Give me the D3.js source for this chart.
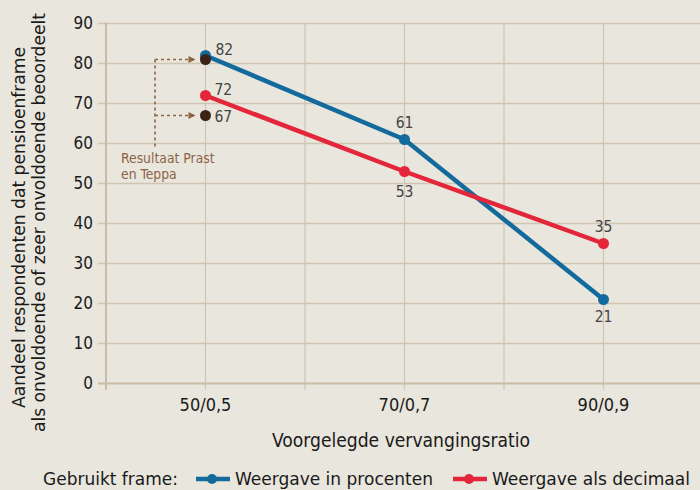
<!DOCTYPE html>
<html><head><meta charset="utf-8">
<script src="https://cdn.jsdelivr.net/npm/d3@7/dist/d3.min.js"></script>
<style>
html,body{margin:0;padding:0;background:#e8e6dd;}
svg{display:block;}
</style></head>
<body>
<svg id="chart" width="700" height="490"></svg>
<script>
const categories = ["50/0,5", "70/0,7", "90/0,9"];
const procenten = [82, 61, 21];
const decimaal = [72, 53, 35];
const prastTeppa = [81, 67];
const yTicks = [0, 10, 20, 30, 40, 50, 60, 70, 80, 90];
const seriesNames = ["Weergave in procenten", "Weergave als decimaal"];
const legendTitle = "Gebruikt frame:";
const xTitle = "Voorgelegde vervangingsratio";
const yTitle = ["Aandeel respondenten dat pensioenframe", "als onvoldoende of zeer onvoldoende beoordeelt"];
const noteLines = ["Resultaat Prast", "en Teppa"];

// font detection
const cvs = document.createElement("canvas").getContext("2d");
function has(f){
  const s = "abcdefghijklmnopqrstuvwxyz Voorgelegde 0123456789";
  cvs.font = "20px '" + f + "', monospace"; const a = cvs.measureText(s).width;
  cvs.font = "20px monospace"; const b = cvs.measureText(s).width;
  return a !== b;
}
const cands = ["DejaVu Sans Condensed", "Liberation Sans Narrow", "Roboto"];
const FONT = "'" + (cands.find(has) || "Roboto") + "', sans-serif";

const svg = d3.select("#chart").style("font-family", FONT);
svg.append("rect").attr("width", 700).attr("height", 490).attr("fill", "#e8e6dd");

const x = d3.scaleBand().domain(categories).range([106, 703]).paddingInner(0).paddingOuter(0);
const y = d3.scaleLinear().domain([0, 90]).range([383.5, 23.5]);
const cx = c => x(c) + x.bandwidth() / 2;

function fit(sel, w){ sel.attr("textLength", w).attr("lengthAdjust", "spacingAndGlyphs"); return sel; }

const gridCol = "#cfc5b2";
const g = svg.append("g");
g.selectAll("line.h").data(yTicks.slice(1)).join("line")
  .attr("x1", 98).attr("x2", 700).attr("y1", d => y(d)).attr("y2", d => y(d))
  .attr("stroke", gridCol).attr("stroke-width", 1.6);
const vx = [];
categories.forEach(c => { vx.push(x(c)); vx.push(cx(c)); });
vx.push(x(categories[categories.length - 1]) + x.bandwidth());
g.selectAll("line.v").data(vx).join("line")
  .attr("x1", d => d).attr("x2", d => d).attr("y1", y(90)).attr("y2", y(0) + 6)
  .attr("stroke", gridCol).attr("stroke-width", 1.2);
g.append("line").attr("x1", 106).attr("x2", 106).attr("y1", y(90) - 1).attr("y2", y(0) + 6)
  .attr("stroke", "#c9bca4").attr("stroke-width", 2);
g.append("line").attr("x1", 98).attr("x2", 700).attr("y1", y(0)).attr("y2", y(0))
  .attr("stroke", "#c9bca4").attr("stroke-width", 2.2);

// y axis labels
const ya = svg.append("g").attr("transform", "translate(106,0)")
  .call(d3.axisLeft(y).tickValues(yTicks).tickSize(0).tickPadding(13));
ya.select(".domain").remove();
ya.selectAll("text").attr("font-size", 17).attr("fill", "#1a1a1a").style("font-family", FONT);

// x axis labels
const xa = svg.append("g").attr("transform", "translate(0," + y(0) + ")")
  .call(d3.axisBottom(x).tickSize(0).tickPadding(15));
xa.select(".domain").remove();
xa.selectAll("text").attr("font-size", 18).attr("fill", "#1a1a1a").style("font-family", FONT);

// titles
fit(svg.append("text").attr("x", 272).attr("y", 447)
  .attr("font-size", 19).attr("fill", "#1a1a1a").text(xTitle), 258);
const yStart = [408, 432], yLen = [361, 419], yBase = [25, 45];
yTitle.forEach((t, i) => {
  fit(svg.append("text").attr("transform", "translate(" + yBase[i] + "," + yStart[i] + ") rotate(-90)")
    .attr("font-size", 18).attr("fill", "#1a1a1a").text(t), yLen[i]);
});

// lines
const colors = ["#136a9c", "#e3263a"];
const series = [procenten, decimaal];
const line = d3.line().x((d, i) => cx(categories[i])).y(d => y(d));
series.forEach((s, k) => {
  svg.append("path").datum(s).attr("d", line).attr("fill", "none")
    .attr("stroke", colors[k]).attr("stroke-width", 4.5).attr("stroke-linejoin", "round");
  svg.selectAll(null).data(s).join("circle")
    .attr("cx", (d, i) => cx(categories[i])).attr("cy", d => y(d)).attr("r", 5.5).attr("fill", colors[k]);
});

// annotation
const brown = "#8c6445";
const defs = svg.append("defs");
defs.append("marker").attr("id", "arr").attr("viewBox", "0 0 10 10").attr("refX", 10).attr("refY", 5)
  .attr("markerWidth", 12).attr("markerHeight", 7).attr("markerUnits", "userSpaceOnUse").attr("orient", "auto")
  .append("path").attr("d", "M0,0 L10,5 L0,10 Z").attr("fill", brown);
const px = cx(categories[0]);
svg.append("line").attr("x1", 155).attr("x2", 155).attr("y1", y(prastTeppa[0])).attr("y2", 148)
  .attr("stroke", brown).attr("stroke-width", 1.6).attr("stroke-dasharray", "3,3");
prastTeppa.forEach(v => {
  svg.append("line").attr("x1", 155).attr("x2", px - 10).attr("y1", y(v)).attr("y2", y(v))
    .attr("stroke", brown).attr("stroke-width", 1.6).attr("stroke-dasharray", "3,3")
    .attr("marker-end", "url(#arr)");
});
svg.selectAll(null).data(prastTeppa).join("circle")
  .attr("cx", px).attr("cy", d => y(d)).attr("r", 5.5).attr("fill", "#3b2317");
noteLines.forEach((t, i) => {
  svg.append("text").attr("x", 121).attr("y", 163 + i * 16).attr("font-size", 13.8)
    .attr("fill", brown).text(t);
});

// data labels
const lab = (xx, yy, t, anchor) => svg.append("text").attr("x", xx).attr("y", yy)
  .attr("text-anchor", anchor || "middle").attr("font-size", 15.5).attr("fill", "#444").text(t);
lab(px + 10, y(procenten[0]) - 1, procenten[0], "start");
lab(px + 9, y(decimaal[0]) - 1, decimaal[0], "start");
lab(px + 9, y(prastTeppa[1]) + 6, prastTeppa[1], "start");
lab(cx(categories[1]), y(procenten[1]) - 12, procenten[1]);
lab(cx(categories[1]), y(decimaal[1]) + 25, decimaal[1]);
lab(cx(categories[2]), y(decimaal[2]) - 12, decimaal[2]);
lab(cx(categories[2]), y(procenten[2]) + 22, procenten[2]);

// legend
const lg = svg.append("g");
fit(lg.append("text").attr("x", 43).attr("y", 485).attr("font-size", 18.5).attr("fill", "#1a1a1a").text(legendTitle), 135);
const lx = [196, 453];
seriesNames.forEach((n, k) => {
  lg.append("line").attr("x1", lx[k]).attr("x2", lx[k] + 34).attr("y1", 479).attr("y2", 479)
    .attr("stroke", colors[k]).attr("stroke-width", 4.5);
  lg.append("circle").attr("cx", lx[k] + 16).attr("cy", 479).attr("r", 5).attr("fill", colors[k]);
  fit(lg.append("text").attr("x", lx[k] + 39).attr("y", 485).attr("font-size", 18.5).attr("fill", "#1a1a1a").text(n), 198);
});
</script>
</body></html>
